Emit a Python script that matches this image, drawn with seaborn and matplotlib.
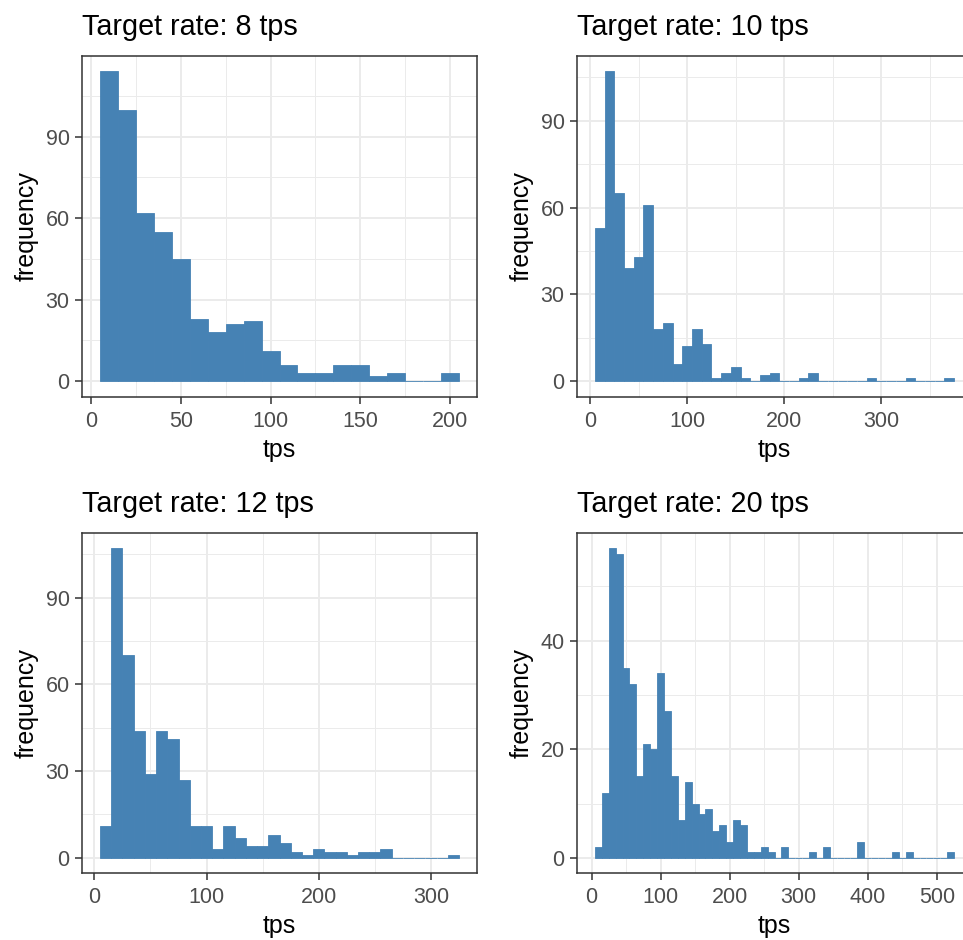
import numpy as np
import pandas as pd
import matplotlib
matplotlib.use("Agg")
import matplotlib.pyplot as plt
import seaborn as sns

# Bin counts (bins are 10 tps wide, first bin starts at 5)
bin_start = 5
bin_width = 10

counts_8 = [114, 100, 62, 55, 45, 23, 18, 21, 22, 11, 6, 3, 3, 6, 6, 2, 3, 0, 0, 3]
counts_10 = [53, 107, 65, 39, 43, 61, 18, 20, 6, 12, 18, 13, 1, 3, 5, 1, 0, 2, 3, 0,
             0, 1, 3, 0, 0, 0, 0, 0, 1, 0, 0, 0, 1, 0, 0, 0, 1]
counts_12 = [11, 107, 70, 44, 29, 44, 41, 27, 11, 11, 3, 11, 7, 4, 4, 8, 5, 2, 1, 3,
             2, 2, 1, 2, 2, 3, 0, 0, 0, 0, 0, 1]
counts_20 = [2, 12, 57, 56, 35, 32, 15, 21, 20, 34, 27, 15, 7, 14, 10, 8, 9, 5, 6, 3,
             7, 6, 1, 1, 2, 1, 0, 2, 0, 0, 0, 1, 0, 2, 0, 0, 0, 0, 3, 0,
             0, 0, 0, 1, 0, 1, 0, 0, 0, 0, 0, 1]

titles = ["Target rate: 8 tps", "Target rate: 10 tps",
          "Target rate: 12 tps", "Target rate: 20 tps"]
x_major = [50, 100, 100, 100]
y_major = [30, 30, 30, 20]

sns.set_style("white")
plt.rcParams["font.family"] = ["Liberation Sans", "DejaVu Sans"]

fig = plt.figure(figsize=(9.63, 9.40), dpi=100)
W, H = 963, 940

def add_panel(left, top, right, bottom):
    return fig.add_axes([left / W, (H - bottom) / H, (right - left) / W, (bottom - top) / H])

# right-hand panels run slightly past the image edge, as in the reference
axes = [
    add_panel(82, 56, 477, 396.7),
    add_panel(577, 56, 972, 396.7),
    add_panel(82, 533, 477, 873.3),
    add_panel(577, 533, 972, 873.3),
]

blue = "#4682B4"
for ax, counts, title, xm, ym in zip(axes, [counts_8, counts_10, counts_12, counts_20],
                                     titles, x_major, y_major):
    counts = np.array(counts, dtype=float)
    edges = bin_start + bin_width * np.arange(len(counts) + 1)
    df = pd.DataFrame({"tps": edges[:-1] + bin_width / 2, "n": counts})
    sns.histplot(data=df, x="tps", weights="n", bins=list(edges), ax=ax, color=blue,
                 alpha=1, edgecolor=blue, linewidth=0.6)

    # ggplot-like 5% expansion
    xr = edges[-1] - edges[0]
    ax.set_xlim(edges[0] - 0.05 * xr, edges[-1] + 0.05 * xr)
    ymax = counts.max()
    ax.set_ylim(-0.05 * ymax, 1.05 * ymax)

    ax.xaxis.set_major_locator(matplotlib.ticker.MultipleLocator(xm))
    ax.xaxis.set_minor_locator(matplotlib.ticker.MultipleLocator(xm / 2))
    ax.yaxis.set_major_locator(matplotlib.ticker.MultipleLocator(ym))
    ax.yaxis.set_minor_locator(matplotlib.ticker.MultipleLocator(ym / 2))

    ax.set_axisbelow(True)
    ax.grid(which="major", color="#EBEBEB", linewidth=1.4)
    ax.grid(which="minor", color="#EBEBEB", linewidth=0.7)
    ax.tick_params(which="major", direction="out", length=5, width=1.1,
                   color="#333333", labelsize=15.5, labelcolor="#4D4D4D")
    ax.tick_params(axis="x", which="major", pad=5, bottom=True)
    ax.tick_params(axis="y", which="major", pad=4, left=True)
    ax.tick_params(which="minor", length=0)
    for s in ax.spines.values():
        s.set_visible(True)
        s.set_color("#333333")
        s.set_linewidth(1.1)

    ax.set_xlabel("tps", fontsize=18, labelpad=4.5, color="black")
    ax.set_ylabel("frequency", fontsize=18, labelpad=5, color="black")
    ax.set_title(title, loc="left", fontsize=20.7, pad=15, color="black")

fig.savefig("out.png", dpi=100)
